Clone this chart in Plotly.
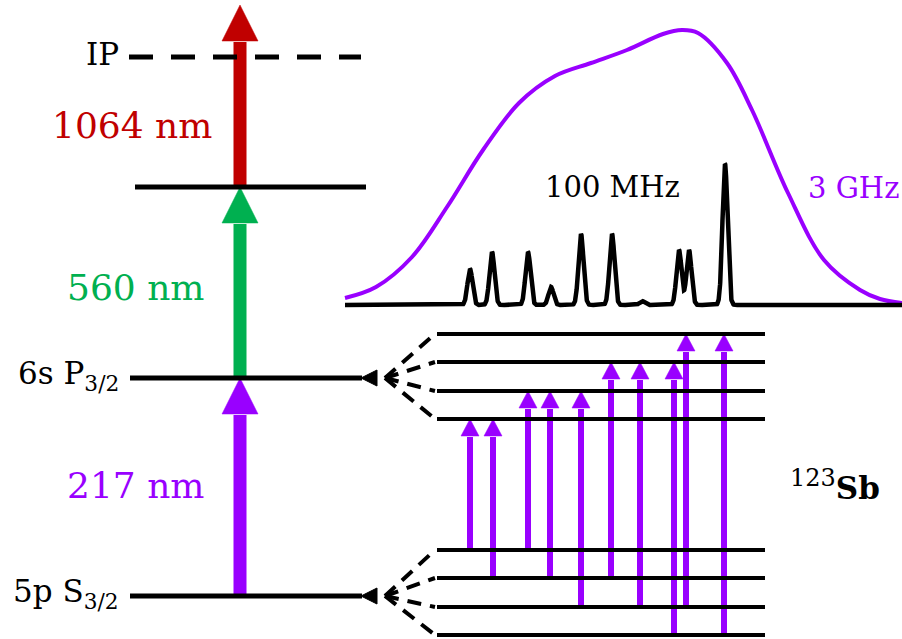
import numpy as np
import plotly.graph_objects as go

# ---------------- DATA (diagram units; y grows downward) ----------------
# Coarse ionization scheme levels
main_level_names = ["5p S3/2", "6s P3/2", "intermediate", "IP"]
main_level_y = [596, 378, 187, 57]
main_level_x0 = [130, 130, 135, 129]
main_level_x1 = [362, 362, 366, 361]
main_level_labels = ["5p S<sub>3/2</sub>", "6s P<sub>3/2</sub>", "", "IP"]

# Laser steps
step_labels = ["217 nm", "560 nm", "1064 nm"]
step_from = [596, 378, 187]
step_to = [378, 187, 5]
step_colors = ["#9900ff", "#00b050", "#c00000"]
step_label_y = [485, 287, 125]
step_label_x = [135, 135, 132]
step_x = 240

# Hyperfine sub-levels
upper_hf_y = [334, 362, 391, 419]
lower_hf_y = [550, 578, 607, 635]
hf_x0, hf_x1 = 437, 765
fan_apex_x = 362

# Hyperfine transitions: x position, lower index, upper index
trans_x = [470, 493, 528, 550, 581, 611, 640, 674, 686, 724]
trans_lower = [0, 1, 0, 1, 2, 1, 2, 3, 2, 3]
trans_upper = [3, 3, 2, 2, 2, 1, 1, 1, 0, 0]

# Narrow-band (100 MHz) spectrum peaks
peak_x = [470, 492, 528, 551, 581, 612, 642, 679, 689, 725]
peak_h = [36, 53, 53, 18, 71, 71, 4, 55, 55, 141]
spec_baseline = 305
spec_x_range = [345, 902]

# Broad-band (3 GHz) envelope
env_x = [345, 376, 412, 447, 483, 519, 555, 591, 627, 663, 682, 698, 727, 752, 788, 824, 860, 880, 902]
env_y = [298, 287, 257, 207, 150, 103, 76, 63, 50, 34, 30, 33, 63, 110, 193, 260, 290, 299, 303]

PURPLE = "#9900ff"
BLACK = "black"
FONT = "DejaVu Serif"

fig = go.Figure()


def add_arrow(x, y_from, y_to, color, shaft_w, head_hw, head_len):
    y_base = y_to + head_len
    fig.add_trace(go.Scatter(x=[x, x], y=[y_from, y_base + 1], mode="lines",
                             line=dict(color=color, width=shaft_w), hoverinfo="skip"))
    fig.add_trace(go.Scatter(x=[x - head_hw, x + head_hw, x, x - head_hw],
                             y=[y_base, y_base, y_to, y_base], mode="lines",
                             fill="toself", fillcolor=color, line=dict(color=color, width=0.5),
                             hoverinfo="skip"))


# broad envelope
fig.add_trace(go.Scatter(x=env_x, y=env_y, mode="lines",
                         line=dict(color=PURPLE, width=4, shape="spline", smoothing=1.0),
                         hoverinfo="skip"))

# narrow spectrum
xs = np.linspace(spec_x_range[0], spec_x_range[1], 4000)
prof = np.zeros_like(xs)
sigma = 2.5
for px, ph in zip(peak_x, peak_h):
    prof += ph * np.exp(-(xs - px) ** 2 / (2 * sigma ** 2))
fig.add_trace(go.Scatter(x=xs, y=spec_baseline - prof, mode="lines",
                         line=dict(color=BLACK, width=4.5), hoverinfo="skip"))

# laser step arrows
for yf, yt, c in zip(step_from, step_to, step_colors):
    add_arrow(step_x, yf, yt, c, 13, 18, 36)

# hyperfine transition arrows
for tx, li, ui in zip(trans_x, trans_lower, trans_upper):
    add_arrow(tx, lower_hf_y[li], upper_hf_y[ui], PURPLE, 6, 9, 17)

# main levels
for name, y, x0, x1 in zip(main_level_names, main_level_y, main_level_x0, main_level_x1):
    dash = "24px,18px" if name == "IP" else "solid"
    fig.add_trace(go.Scatter(x=[x0, x1], y=[y, y], mode="lines",
                             line=dict(color=BLACK, width=5, dash=dash), hoverinfo="skip"))

# hyperfine levels and fan lines
for group, apex_y in ((upper_hf_y, main_level_y[1]), (lower_hf_y, main_level_y[0])):
    for y in group:
        fig.add_trace(go.Scatter(x=[hf_x0, hf_x1], y=[y, y], mode="lines",
                                 line=dict(color=BLACK, width=4), hoverinfo="skip"))
        fig.add_trace(go.Scatter(x=[fan_apex_x + 23, hf_x0 - 2], y=[apex_y, y], mode="lines",
                                 line=dict(color=BLACK, width=4, dash="14px,9px"), hoverinfo="skip"))
    # small arrowhead at the apex
    fig.add_trace(go.Scatter(x=[fan_apex_x + 15, fan_apex_x + 15, fan_apex_x - 1, fan_apex_x + 15],
                             y=[apex_y - 8, apex_y + 8, apex_y, apex_y - 8], mode="lines",
                             fill="toself", fillcolor=BLACK, line=dict(color=BLACK, width=1),
                             hoverinfo="skip"))

annotations = []
for lab, y in zip(main_level_labels, main_level_y):
    if lab:
        annotations.append(dict(x=121, y=y - 3, text=lab, xanchor="right", yanchor="middle",
                                showarrow=False, font=dict(family=FONT, size=31, color=BLACK)))
for lab, y, x, c in zip(step_labels, step_label_y, step_label_x, step_colors):
    annotations.append(dict(x=x, y=y, text=lab, xanchor="center", yanchor="middle",
                            showarrow=False, font=dict(family=FONT, size=36, color=c)))
annotations.append(dict(x=612, y=187, text="100 MHz", xanchor="center", yanchor="middle",
                        showarrow=False, font=dict(family=FONT, size=29, color=BLACK)))
annotations.append(dict(x=853, y=188, text="3 GHz", xanchor="center", yanchor="middle",
                        showarrow=False, font=dict(family=FONT, size=29, color=PURPLE)))
annotations.append(dict(x=835, y=485,
                        text="<sup><span style='font-size:24px'>123</span></sup><b>Sb</b>",
                        xanchor="center", yanchor="middle", showarrow=False,
                        font=dict(family=FONT, size=31, color=BLACK)))

fig.update_layout(
    width=902, height=639,
    margin=dict(l=0, r=0, t=0, b=0),
    paper_bgcolor="white", plot_bgcolor="white",
    showlegend=False,
    xaxis=dict(range=[0, 902], visible=False, fixedrange=True),
    yaxis=dict(range=[639, 0], visible=False, fixedrange=True),
    annotations=annotations,
)

fig.write_html("out.html")
